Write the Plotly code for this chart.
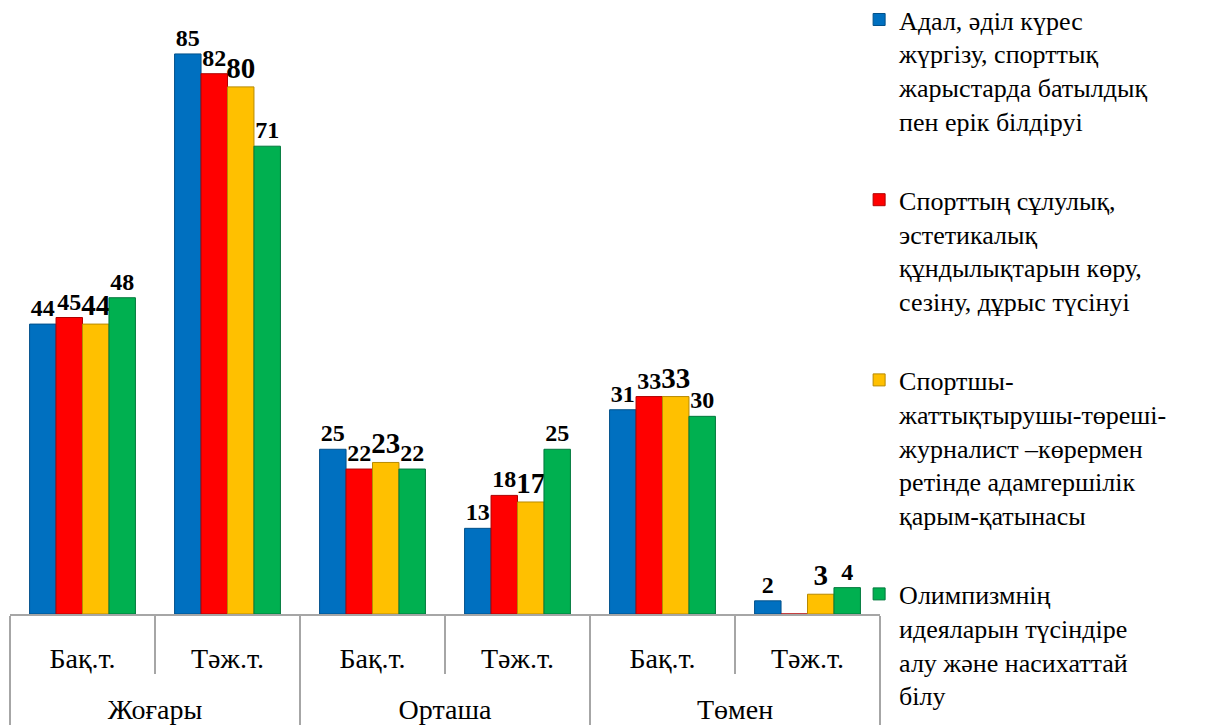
import plotly.graph_objects as go

# categories (outer level, inner level)
levels = ["Жоғары", "Жоғары", "Орташа", "Орташа", "Төмен", "Төмен"]
periods = ["Бақ.т.", "Тәж.т.", "Бақ.т.", "Тәж.т.", "Бақ.т.", "Тәж.т."]

# series
names = [
    "Адал, әділ күрес<br>жүргізу, спорттық<br>жарыстарда батылдық<br>пен ерік білдіруі",
    "Спорттың сұлулық,<br>эстетикалық<br>құндылықтарын көру,<br>сезіну, дұрыс түсінуі",
    "Спортшы-<br>жаттықтырушы-төреші-<br>журналист –көрермен<br>ретінде адамгершілік<br>қарым-қатынасы",
    "Олимпизмнің<br>идеяларын түсіндіре<br>алу және насихаттай<br>білу",
]
s1 = [44, 85, 25, 13, 31, 2]
s2 = [45, 82, 22, 18, 33, 0]
s3 = [44, 80, 23, 17, 33, 3]
s4 = [48, 71, 22, 25, 30, 4]
series = [s1, s2, s3, s4]

FONT = "Liberation Serif"
colors = ["#0070C0", "#FF0000", "#FFC000", "#00B050"]
edge = ["#00508A", "#B00000", "#B88A00", "#00783C"]
label_size = [24, 24, 29, 24]

# extra blank line under the inner labels to open space before the outer level
periods_lbl = [p + "<br> " for p in periods]

fig = go.Figure()
for i, vals in enumerate(series):
    fig.add_trace(go.Bar(
        x=[levels, periods_lbl], y=vals,
        name=names[i],
        legendgroup=str(i),
        marker=dict(color=colors[i], line=dict(color=edge[i], width=1)),
        text=[str(v) if v else "" for v in vals],
        textposition="outside",
        constraintext="none",
        cliponaxis=False,
        textfont=dict(family=FONT, size=label_size[i], color="black", weight="bold"),
    ))

fig.update_xaxes(
    automargin=False,
    showline=True, linecolor="#A6A6A6", linewidth=2,
    ticks="outside", ticklen=58, tickcolor="#A6A6A6", tickwidth=1.5,
    showdividers=True, dividercolor="#A6A6A6", dividerwidth=1.5,
    ticklabelstandoff=18,
    tickfont=dict(family=FONT, size=28, color="black"),
    showgrid=False,
)
fig.update_yaxes(range=[0, 90], visible=False, showgrid=False, automargin=False)

fig.update_layout(
    width=1227, height=725,
    barmode="group", bargap=0.27, bargroupgap=0,
    margin=dict(l=10, r=347, t=21, b=111, autoexpand=False),
    plot_bgcolor="white", paper_bgcolor="white",
    font=dict(family=FONT, color="black"),
    legend=dict(
        x=0.976, xanchor="left", y=1.042, yanchor="top",
        bgcolor="rgba(0,0,0,0)",
        font=dict(family=FONT, size=26, color="black"),
        valign="top", tracegroupgap=42, itemwidth=30, maxheight=725,
    ),
)

# drop the default page margin so the figure sits at the window's corner
fig.write_html("out.html", config={"displayModeBar": False},
               post_script="document.body.style.margin='0';")
